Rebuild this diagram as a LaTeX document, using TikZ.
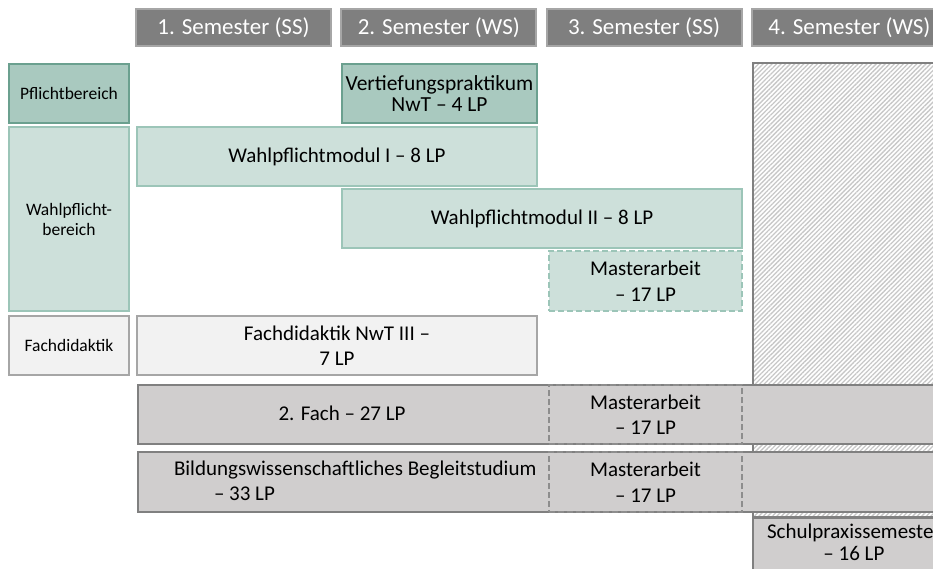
\documentclass[tikz,border=0pt]{standalone}
\usepackage{fontspec}
\setmainfont{Carlito}
\usepackage{tikz}
\usetikzlibrary{patterns.meta}
\usepackage{xcolor}
\definecolor{kopfgrau}{HTML}{7F7F7F}
\definecolor{kopfrand}{HTML}{A6A6A6}
\definecolor{gruendunkel}{HTML}{A9C9BF}
\definecolor{gruenrand}{HTML}{6BA08F}
\definecolor{gruenhell}{HTML}{CDE0DA}
\definecolor{gruenhellrand}{HTML}{9CC5B8}
\definecolor{hellgrau}{HTML}{F2F2F2}
\definecolor{zeilgrau}{HTML}{D0CECE}
\definecolor{zeilrand}{HTML}{808080}
\begin{document}
\begin{tikzpicture}[x=1pt, y=-1pt,
	kopf/.style={fill=kopfgrau, draw=kopfrand, line width=2pt, text=white, font=\fontsize{23}{27}\selectfont, minimum width=195pt, minimum height=37pt, inner sep=0pt},
	feld/.style={line width=2pt, inner sep=0pt, align=center, anchor=north west, font=\fontsize{21}{25.5}\selectfont},
	links/.style={feld, minimum width=120pt, minimum height=59pt, font=\fontsize{17.5}{20}\selectfont},
	gruen1/.style={fill=gruendunkel, draw=gruenrand},
	gruen2/.style={fill=gruenhell, draw=gruenhellrand},
	grau1/.style={fill=hellgrau, draw=kopfrand},
	grau2/.style={fill=zeilgrau, draw=zeilrand},
	gestrichelt/.style={dash pattern=on 6pt off 3pt},
	sperre/.style={draw=zeilrand, pattern={Lines[angle=45, distance=3.2pt, line width=1.3pt]}, pattern color=black!22}]
	\clip (0,0) rectangle (933,569);
	\foreach \i/\t in {1/SS,2/WS,3/SS,4/WS}
		\node[kopf] (sem\i) at ({233.5+205.3*(\i-1)},27.5) {\i. Semester (\t)};
	\node[links, gruen1] (pflicht) at (8,63) {Pflichtbereich};
	\node[links, gruen2, minimum height=184pt] (wahlbereich) at (8,126) {Wahlpflicht-\\bereich};
	\node[links, grau1] (didaktik) at (8,315) {Fachdidaktik};
	\node[feld, gruen1, minimum width=195pt, minimum height=59pt, font=\fontsize{21.5}{21}\selectfont] (vertiefung) at (341,63) {Vertiefungspraktikum\\NwT – 4 LP};
	\node[feld, gruen2, minimum width=400pt, minimum height=59pt] (wpm1) at (136,126) {Wahlpflichtmodul I – 8 LP};
	\node[feld, gruen2, minimum width=400pt, minimum height=59pt] (wpm2) at (341,188) {Wahlpflichtmodul II – 8 LP};
	\node[feld, gruen2, gestrichelt, minimum width=193pt, minimum height=60pt] (ma1) at (548,250) {Masterarbeit\\– 17 LP};
	\node[feld, grau1, minimum width=400pt, minimum height=59pt] (fdnwt) at (136,315) {Fachdidaktik NwT III –\\7 LP};
	\node[feld, sperre, minimum width=200pt, minimum height=454pt] (praxisfeld) at (752,62) {};
	\node[feld, grau2, minimum width=820pt, minimum height=59pt] (zeile1) at (137,384) {};
	\node[feld, grau2, minimum width=820pt, minimum height=60pt] (zeile2) at (137,451) {};
	\node[feld, gestrichelt, draw=zeilrand!90, minimum width=193pt, minimum height=59pt] (ma2) at (548,384) {Masterarbeit\\– 17 LP};
	\node[feld, gestrichelt, draw=zeilrand!90, minimum width=193pt, minimum height=60pt] (ma3) at (548,451) {Masterarbeit\\– 17 LP};
	\node[feld, anchor=center] (fach2) at (342,413.5) {2. Fach – 27 LP};
	\node[feld, anchor=west, align=left] (begleit) at (173,481) {Bildungswissenschaftliches Begleitstudium\\\hspace*{40pt}– 33 LP};
	\node[feld, grau2, minimum width=220pt, minimum height=62pt] (schulpraxis) at (752,517) {};
	\node[feld, font=\fontsize{21}{22}\selectfont] (schultext) at (766,523) {Schulpraxissemester\\– 16 LP};
\end{tikzpicture}
\end{document}
